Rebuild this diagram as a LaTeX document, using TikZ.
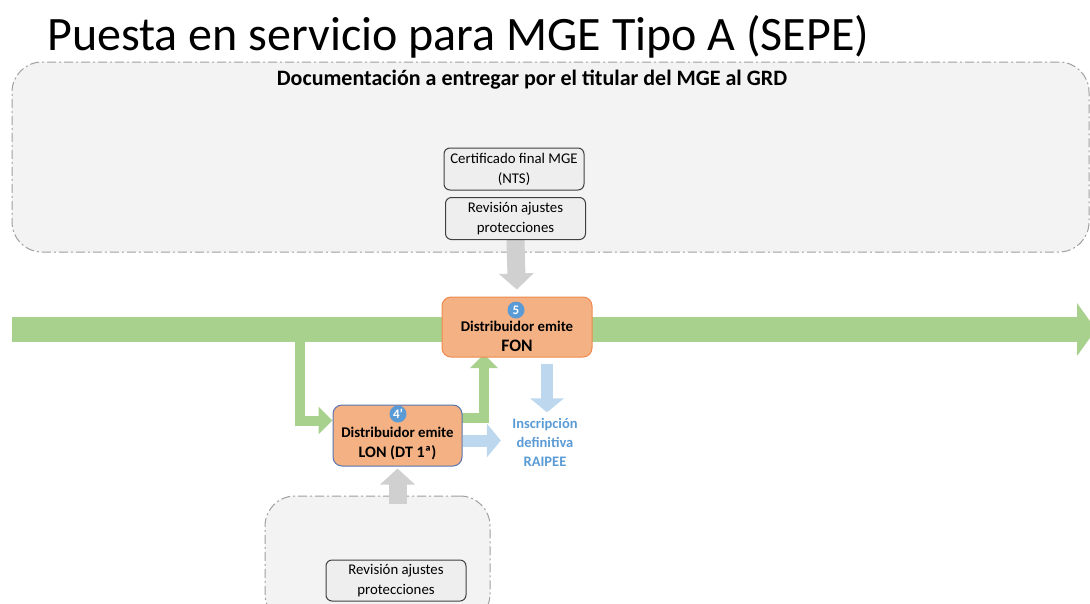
\documentclass[tikz,border=0pt]{standalone}
\usepackage{fontspec}
\setmainfont{Carlito}
\usetikzlibrary{arrows.meta,calc,positioning}

\definecolor{flussgruen}{HTML}{A9D18E}
\definecolor{hellblau}{HTML}{BDD7EE}
\definecolor{pfeilgrau}{HTML}{D0D0D0}
\definecolor{lachs}{HTML}{F4B183}
\definecolor{orangerand}{HTML}{EE8A4F}
\definecolor{blaurand}{HTML}{5675B0}
\definecolor{punktblau}{HTML}{5B9BD5}
\definecolor{textblau}{HTML}{5B9BD5}
\definecolor{flaeche}{HTML}{F3F3F3}

\pgfdeclarelayer{back}
\pgfdeclarelayer{mid}
\pgfsetlayers{back,mid,main}

\tikzset{
	Bereich/.style={draw=gray!75, fill=flaeche, line width=1pt, rounded corners=30pt,
		dash pattern=on 9pt off 3pt on 2pt off 3pt},
	Doku/.style={draw=black!75, fill=gray!13, line width=1pt, rounded corners=6pt,
		align=center, font=\fontsize{14.8}{20}\selectfont, minimum width=140pt, minimum height=42pt, inner sep=0pt},
	Schritt/.style={fill=lachs, line width=1pt, rounded corners=9pt, inner sep=0pt},
	Schrifttext/.style={align=center, font=\bfseries\fontsize{14.8}{20}\selectfont, inner sep=0pt},
	Nummer/.style={circle, fill=punktblau, text=white, inner sep=0pt, minimum size=17pt,
		font=\bfseries\fontsize{13}{13}\selectfont},
	Hauptpfeil/.style={draw=flussgruen, line width=25pt, -{Triangle[width=52pt,length=19pt]}},
	Gruenpfeil/.style={draw=flussgruen, line width=10pt, -{Triangle[width=27pt,length=14pt]}},
	Graupfeil/.style={draw=pfeilgrau, line width=18pt, -{Triangle[width=34pt,length=16pt]}},
	Blaupfeil/.style={draw=hellblau, line width=12pt, -{Triangle[width=33pt,length=14pt]}}
}

\begin{document}
\begin{tikzpicture}[x=1pt,y=-1pt]
\useasboundingbox (0,0) rectangle (1090,603);

%Titel
\node[anchor=base west, inner sep=0pt, font=\fontsize{48}{52}\selectfont] (titel) at (47,50)
	{Puesta en servicio para MGE Tipo A (SEPE)};

%Bereiche
\begin{pgfonlayer}{back}
\node[Bereich, minimum width=1077pt, minimum height=190pt] (doku) at (550.5,157) {};
\node[Bereich, minimum width=225pt, minimum height=128pt] (dokuunten) at (377.5,560) {};
\end{pgfonlayer}
\node[font=\bfseries\fontsize{22}{24}\selectfont] (kopf) at (532,80)
	{Documentación a entregar por el titular del MGE al GRD};

\node[Doku] (cert) at (514,169) {Certificado final MGE\\(NTS)};
\node[Doku] (rev) at (515.5,218.5) {Revisión ajustes\\protecciones};
\node[Doku, minimum height=41pt] (revunten) at (396,580.5) {Revisión ajustes\\protecciones};

%Schritte
\node[Schritt, draw=orangerand, minimum width=150pt, minimum height=60pt] (fon) at (517,327) {};
\node[Schrifttext] (fontext) at ([yshift=-9pt]fon.center)
	{Distribuidor emite\\{\fontsize{17.5}{20}\selectfont FON}};
\node[Nummer] (nr5) at (516,310) {5};

\node[Schritt, draw=blaurand, minimum width=129pt, minimum height=61pt] (lon) at (397.5,435.5) {};
\node[Schrifttext] (lontext) at ([yshift=-8pt]lon.center)
	{Distribuidor emite\\{\fontsize{16}{20}\selectfont LON (DT 1ª)}};
\node[Nummer] (nr4) at (398,414) {4'};

\node[align=center, text=textblau, font=\bfseries\fontsize{14.5}{19}\selectfont] (insc) at (545,442)
	{Inscripción\\definitiva\\RAIPEE};

%Pfeile
\coordinate (start) at (12,329.5);
\coordinate (ende) at (1096,329.5);
\coordinate (abzweig) at (300,329.5);
\coordinate (lonaus) at (462,418);
\coordinate (fonein) at (484,357);

\begin{pgfonlayer}{mid}
\draw[Hauptpfeil] (start) -- (ende);
\draw[Gruenpfeil] (abzweig) |- ([yshift=15pt]lon.west);
\draw[Gruenpfeil, shorten >=-3pt] (lonaus) -| (fonein);
\draw[Graupfeil, shorten >=7pt] (rev.south) -- (fon.north);
\draw[Graupfeil, shorten >=2pt] ([yshift=-8pt]dokuunten.north -| lon.south) -- (lon.south);
\draw[Blaupfeil, shorten <=6pt, shorten >=2pt] (fon.south -| 547,0) -- (insc.north -| 547,0);
\draw[Blaupfeil, shorten >=8pt] ([yshift=-5pt]lon.east) -- ([yshift=-5pt]lon.east -| insc.west);
\end{pgfonlayer}
\end{tikzpicture}
\end{document}
